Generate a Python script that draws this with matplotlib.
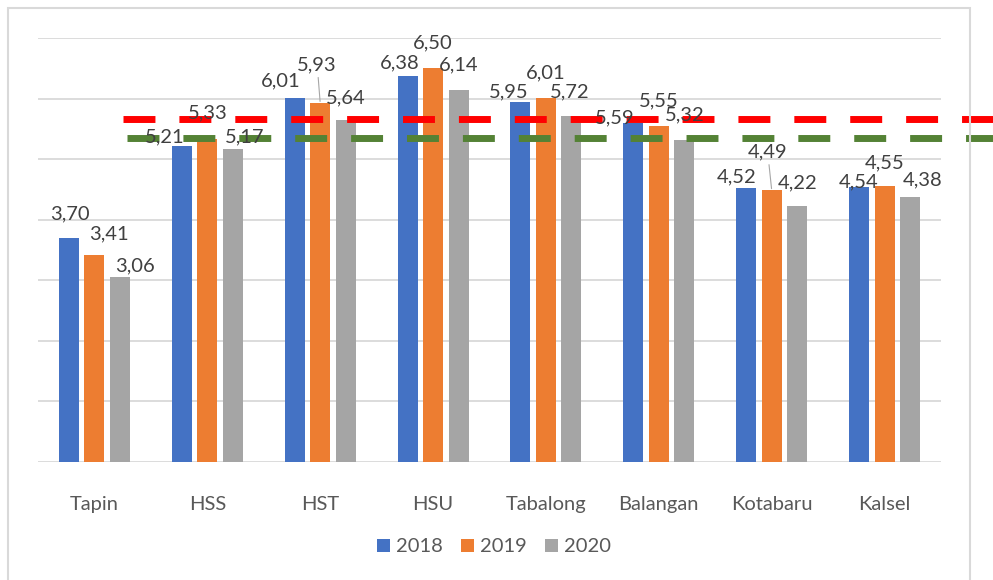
import numpy as np
import matplotlib.pyplot as plt
from matplotlib.patches import Rectangle

plt.rcParams['font.family'] = ['Lato', 'DejaVu Sans']

regions = ['Tapin', 'HSS', 'HST', 'HSU', 'Tabalong', 'Balangan', 'Kotabaru', 'Kalsel']
years = ['2018', '2019', '2020']
v2018 = [3.70, 5.21, 6.01, 6.38, 5.95, 5.59, 4.52, 4.54]
v2019 = [3.41, 5.33, 5.93, 6.50, 6.01, 5.55, 4.49, 4.55]
v2020 = [3.06, 5.17, 5.64, 6.14, 5.72, 5.32, 4.22, 4.38]
ref_red = 5.66
ref_green = 5.35

colors = ['#4472C4', '#ED7D31', '#A5A5A5']

# label placement (pixels from top centre of each bar)
offs = [
    [(1, 24), (-17, 10), (-14, 17), (-8, 13), (-12, 10), (-19, 6), (-10, 11), (0, 5)],
    [(15, 22), (0, 26), (-3, 38), (0, 25), (0, 25), (0, 25), (-4, 38), (0, 24)],
    [(15, 11), (12, 12), (0, 23), (0, 25), (-2, 24), (0, 25), (0, 24), (13, 17)],
]
leaders = {(1, 2), (1, 6)}

fig = plt.figure(figsize=(9.93, 5.80), dpi=100)
ax = fig.add_axes([38/993, 1-462/580, (941-38)/993, (462-38)/580])

x = np.arange(len(regions))
w = 0.177
step = 0.226
series = [v2018, v2019, v2020]
for k, vals in enumerate(series):
    xs = x + (k - 1) * step
    ax.bar(xs, vals, width=w, color=colors[k], label=years[k], zorder=2)
    for i, v in enumerate(vals):
        dx, dy = offs[k][i]
        txt = f'{v:.2f}'.replace('.', ',')
        if (k, i) in leaders:
            ax.annotate(txt, xy=(xs[i], v), xytext=(dx, dy), textcoords='offset pixels',
                        ha='center', va='center', fontsize=14.5, color='#404040', zorder=4,
                        arrowprops=dict(arrowstyle='-', color='#a6a6a6', lw=0.8,
                                        shrinkA=1, shrinkB=1))
        else:
            ax.annotate(txt, xy=(xs[i], v), xytext=(dx, dy), textcoords='offset pixels',
                        ha='center', va='center', fontsize=14.5, color='#404040', zorder=4)

ax.set_xlim(-0.5, len(regions) - 0.5)
ax.set_ylim(0, 7)
ax.set_yticks(range(0, 8))
ax.yaxis.grid(True, color='#d9d9d9', lw=1.3, zorder=0)
ax.set_axisbelow(True)
for s in ax.spines.values():
    s.set_visible(False)
ax.tick_params(left=False, labelleft=False, bottom=False, pad=21)
ax.set_xticks(x)
ax.set_xticklabels(regions, fontsize=14.5, color='#595959')

# reference levels
ax.axhline(ref_red, xmin=(123-38)/903, xmax=(1000-38)/903, color='#FF0000', lw=5,
           linestyle=(0, (4.6, 3.45)), clip_on=False, zorder=3)
ax.axhline(ref_green, xmin=(127-38)/903, xmax=(1000-38)/903, color='#548235', lw=5,
           linestyle=(0, (4.6, 3.45)), clip_on=False, zorder=3)

fig.legend(loc='center', bbox_to_anchor=(494/993, (580-547)/580), ncol=3, frameon=False,
           fontsize=14.5, handlelength=0.65, handleheight=0.65, handletextpad=0.3,
           columnspacing=0.9, labelcolor='#595959')

fig.patches.append(Rectangle((8/993, -0.1), (970-8)/993, 1.1 - 8/580, transform=fig.transFigure,
                             fill=False, edgecolor='#d9d9d9', lw=1.5))

fig.savefig('out.png', dpi=100)
